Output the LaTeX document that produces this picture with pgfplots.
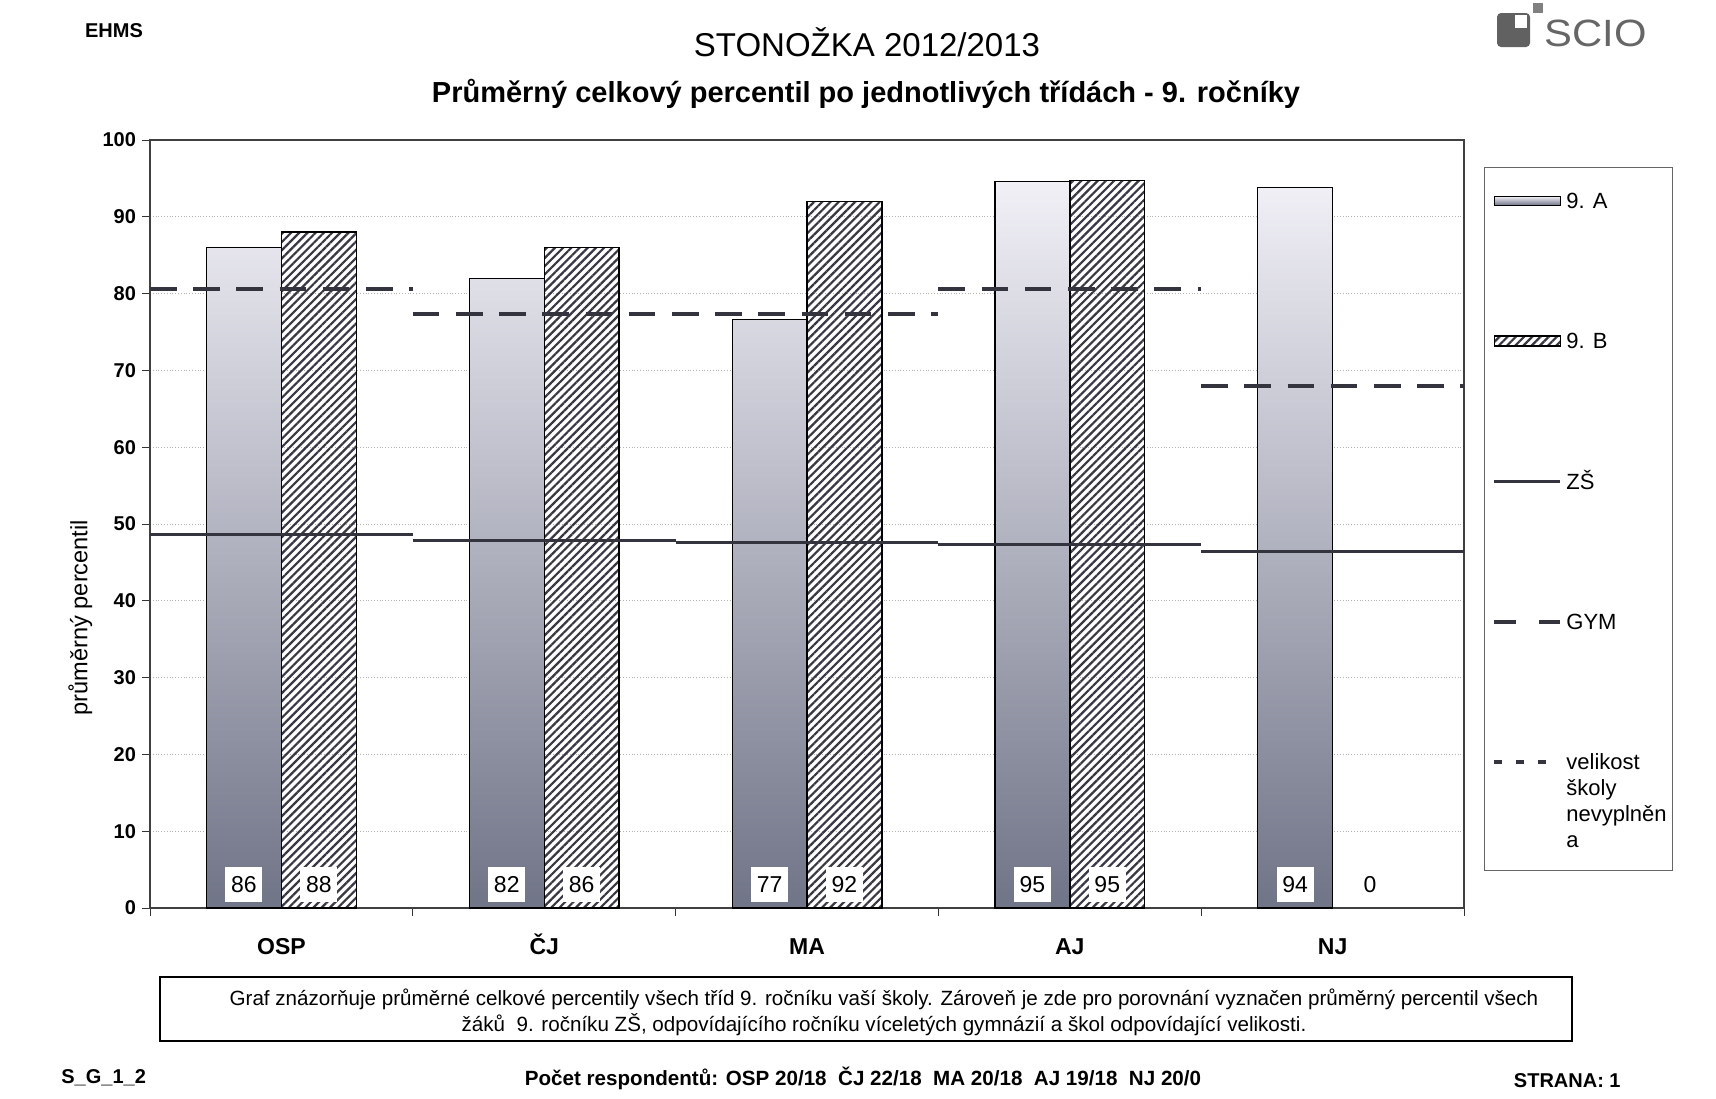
\documentclass[border=0pt]{standalone}
\usepackage{fontspec}
\setmainfont{Liberation Sans}
\usepackage{pgfplots}
\pgfplotsset{compat=1.18}
\usetikzlibrary{patterns.meta}
\definecolor{barAtop}{HTML}{F1F0F7}
\definecolor{barAmid}{HTML}{D5D8E5}
\definecolor{barAbot}{HTML}{707487}
\definecolor{hatch}{HTML}{383844}
\definecolor{linedark}{HTML}{34343E}
\definecolor{legA}{HTML}{C8CBD8}
\newcommand\fs[2]{\fontsize{#1}{#2}\selectfont}
\pgfplotsset{
  barlegA/.style={legend image code/.code={\draw[fill=legA, draw=black, line width=0.6pt] (0pt,-2.25pt) rectangle (33pt,2.25pt);}},
  barlegB/.style={legend image code/.code={\draw[##1] (0pt,-2.5pt) rectangle (33pt,2.5pt);}},
  linelegend/.style={legend image code/.code={\draw[##1] (0pt,0pt) -- (#1,0pt);}},
  gymlegend/.style={legend image code/.code={\draw[##1, dash pattern=on 11pt off 11.5pt] (0pt,0pt) -- (33pt,0pt);}},
}

\begin{document}
\begin{tikzpicture}
% page frame and decorations, in pixel units from the top-left corner
\begin{scope}[x=0.5pt,y=-0.5pt]
\useasboundingbox (0,0) rectangle (1716,1098);
\node[font=\bfseries\fs{10}{12}] at (114,31) {EHMS};
\node[font=\fs{16.5}{20}] at (867,42) {STONOŽKA 2012/2013};
\node[font=\bfseries\fs{14.5}{17}] at (866,94) {Průměrný celkový percentil po jednotlivých třídách - 9. ročníky};
% logo
\fill[black!62, rounded corners=2pt] (1497,13) rectangle (1530,47);
\fill[white] (1515,15) rectangle (1527,28);
\fill[black!50] (1533,3) rectangle (1543,13);
\node[font=\fs{19}{22}, text=black!60, xscale=1.1, anchor=west, inner sep=0pt] at (1544,33) {SCIO};
% legend frame
\draw[black!60, line width=0.5pt] (1484,167) rectangle (1672,870);
% description box
\draw[line width=1pt] (160,977) rectangle (1572,1041);
\node[font=\fs{10.3}{13}, align=center] at (884,1012)
  {Graf znázorňuje průměrné celkové percentily všech tříd 9. ročníku vaší školy. Zároveň je zde pro porovnání vyznačen průměrný percentil všech\\
   žáků\ \ 9. ročníku ZŠ, odpovídajícího ročníku víceletých gymnázií a škol odpovídající velikosti.};
% footer
\node[font=\bfseries\fs{10}{12}, anchor=west, inner sep=0pt] at (61,1078) {S\_G\_1\_2};
\node[font=\bfseries\fs{10.3}{12}] at (863,1078) {Počet respondentů: OSP 20/18\ \ ČJ 22/18\ \ MA 20/18\ \ AJ 19/18\ \ NJ 20/0};
\node[font=\bfseries\fs{10}{12}, anchor=east, inner sep=0pt] at (1621,1081) {STRANA: 1};
\end{scope}

\begin{axis}[
  at={(75pt,-454pt)}, anchor=south west,
  scale only axis, width=657pt, height=384pt,
  xmin=-0.5, xmax=4.5, ymin=0, ymax=100,
  xtick={0,...,4}, xticklabels={OSP,ČJ,MA,AJ,NJ},
  minor xtick={-0.5,0.5,...,4.5},
  ytick={0,10,...,100},
  minor ytick={0,10,...,100},
  tick pos=left,
  tick align=outside, major tick length=0pt, minor tick length=4pt,
  tick style={black!80, line width=0.5pt},
  ymajorgrids, grid style={densely dotted, black!30, line width=0.4pt},
  axis line style={black!75, line width=0.6pt},
  /pgf/number format/assume math mode=true,
  yticklabel style={font=\bfseries\fs{10}{12}, xshift=-3.5pt},
  xticklabel style={font=\bfseries\fs{11.5}{14}, text height=11pt, text depth=0pt, yshift=-8.7pt},
  ylabel={průměrný percentil},
  every axis y label/.style={at={(axis description cs:-0.053,0.378)}, rotate=90, anchor=center},
  ylabel style={font=\fs{11.8}{14}},
  legend style={at={(axis description cs:1.0152,0.969)}, anchor=north west,
    draw=none, fill=none, font=\fs{11}{13}, row sep=55.4pt,
    inner xsep=4pt, inner ysep=11pt},
  legend cell align=left,
  unbounded coords=jump,
]
% 9. A
\addplot[ybar, bar width=0.285, bar shift=-0.1425, draw=black, line width=0.6pt,
  top color=barAtop, middle color=barAmid, bottom color=barAbot, barlegA]
  coordinates {(0,86) (1,82) (2,76.6) (3,94.6) (4,93.8)};
\addlegendentry{9. A\strut}
% 9. B
\addplot[ybar, bar width=0.285, bar shift=0.1425, draw=black, line width=0.7pt,
  pattern={Lines[angle=45,distance=2.9pt,line width=1.1pt]}, pattern color=hatch, barlegB]
  coordinates {(0,88) (1,86) (2,92) (3,94.7)};
\addlegendentry{9. B\strut}
% value labels
\addplot[forget plot, draw=none, mark=none, nodes near coords, point meta=explicit symbolic,
  every node near coord/.append style={fill=white, font=\fs{11.5}{13}, anchor=center,
    minimum height=17.5pt, minimum width=18.5pt, inner sep=0pt}]
  coordinates {(-0.1425,3.1)[86] (0.1425,3.1)[88] (0.8575,3.1)[82] (1.1425,3.1)[86]
    (1.8575,3.1)[77] (2.1425,3.1)[92] (2.8575,3.1)[95] (3.1425,3.1)[95]
    (3.8575,3.1)[94] (4.1425,3.1)[0]};
% ZS
\addplot[linedark, line width=1.5pt, mark=none, linelegend=33pt]
  coordinates {(-0.5,48.6) (0.5,48.6) (0.5,nan) (0.5,47.9) (1.5,47.9) (1.5,nan)
    (1.5,47.6) (2.5,47.6) (2.5,nan) (2.5,47.3) (3.5,47.3) (3.5,nan) (3.5,46.4) (4.5,46.4)};
\addlegendentry{ZŠ\strut}
% GYM
\addplot[linedark, line width=2pt, mark=none, dash pattern=on 13.3pt off 8.3pt, gymlegend]
  coordinates {(-0.5,80.6) (0.5,80.6) (0.5,nan) (0.5,77.3) (2.5,77.3) (2.5,nan)
    (2.5,80.6) (3.5,80.6) (3.5,nan) (3.5,68.0) (4.5,68.0)};
\addlegendentry{GYM\strut}
\addlegendimage{linedark, line width=2pt, dash pattern=on 4pt off 7pt, linelegend=28pt}
\addlegendentry{\begin{tabular}[t]{@{}l@{}}velikost\\školy\\nevyplněn\\a\end{tabular}}
\end{axis}
\end{tikzpicture}
\end{document}
